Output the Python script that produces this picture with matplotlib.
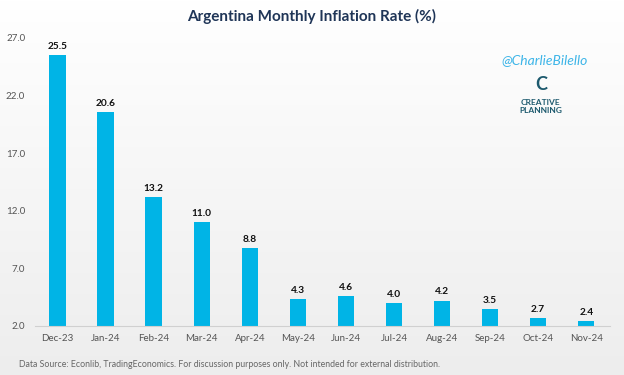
import numpy as np
import matplotlib.pyplot as plt

months = ["Dec-23", "Jan-24", "Feb-24", "Mar-24", "Apr-24", "May-24",
          "Jun-24", "Jul-24", "Aug-24", "Sep-24", "Oct-24", "Nov-24"]
inflation = [25.5, 20.6, 13.2, 11.0, 8.8, 4.3, 4.6, 4.0, 4.2, 3.5, 2.7, 2.4]
yticks = [2.0, 7.0, 12.0, 17.0, 22.0, 27.0]

plt.rcParams["font.family"] = ["Lato", "DejaVu Sans"]

fig = plt.figure(figsize=(6.24, 3.75), dpi=100)

# soft grey gradient in the background
bg = fig.add_axes([0, 0, 1, 1], zorder=-1)
grad = np.linspace(1.0, 0.93, 256).reshape(-1, 1)
bg.imshow(np.dstack([grad, grad, grad]), aspect="auto", extent=[0, 1, 0, 1])
bg.axis("off")

ax = fig.add_axes([0.056, 0.131, 0.922, 0.768])
ax.patch.set_alpha(0)
x = np.arange(len(months))
ax.bar(x, inflation, width=0.34, bottom=0, color="#00b4e6")
ax.set_ylim(2, 27)
ax.set_xlim(-0.47, 11.5)

for xi, v in zip(x, inflation):
    ax.text(xi, v + 0.35, f"{v:.1f}", ha="center", va="bottom",
            fontsize=7.3, fontweight="bold", color="#111111")

ax.set_xticks(x)
ax.set_xticklabels(months)
ax.set_yticks(yticks)
ax.set_yticklabels([f"{t:.1f}" for t in yticks])
ax.tick_params(axis="both", length=0, labelsize=7, colors="#555555")
ax.tick_params(axis="x", pad=6)
ax.tick_params(axis="y", pad=7)

for s in ["top", "right", "left"]:
    ax.spines[s].set_visible(False)
ax.spines["bottom"].set_color("#d0d0d0")

fig.text(0.5, 0.955, "Argentina Monthly Inflation Rate (%)", ha="center",
         va="center", fontsize=11, fontweight="bold", color="#1f3557")

fig.text(0.872, 0.84, "@CharlieBilello", ha="center", va="center",
         fontsize=10, style="italic", color="#3db5e8")
fig.text(0.868, 0.775, "C", ha="center", va="center", fontsize=13,
         fontweight="bold", color="#1d5a6e")
fig.text(0.866, 0.715, "CREATIVE\nPLANNING", ha="center", va="center",
         fontsize=6, fontweight="bold", color="#1d5a6e", linespacing=1.15)

fig.text(0.03, 0.028, "Data Source: Econlib, TradingEconomics. For discussion purposes only. "
         "Not intended for external distribution.", ha="left", va="center",
         fontsize=6.3, color="#666666")

fig.savefig("out.png", dpi=100)
